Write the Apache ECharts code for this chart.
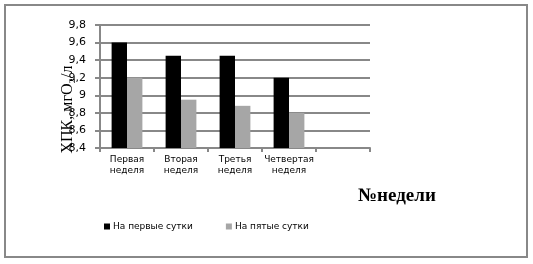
<!DOCTYPE html>
<html><head><meta charset="utf-8">
<script src="https://cdn.jsdelivr.net/npm/echarts@6/dist/echarts.min.js"></script>
<style>html,body{margin:0;padding:0;background:#fff}#c{width:533px;height:264px}</style>
</head><body><div id="c"></div>
<script>
const categories = ['Первая\nнеделя', 'Вторая\nнеделя', 'Третья\nнеделя', 'Четвертая\nнеделя', ''];
const seriesNames = ['На первые сутки', 'На пятые сутки'];
const firstDay = [9.6, 9.45, 9.45, 9.2, null];
const fifthDay = [9.2, 8.95, 8.88, 8.8, null];
const yMin = 8.4, yMax = 9.8, yStep = 0.2;
const yAxisTitle = 'ХПК, мгО₂/л';
const xAxisTitle = '№недели';

const chart = echarts.init(document.getElementById('c'), null, {renderer: 'canvas'});
chart.setOption({
  animation: false,
  backgroundColor: '#fff',
  grid: {left: 100, right: 163, top: 25, bottom: 116},
  legend: {
    left: 99, top: 217, itemWidth: 6, itemHeight: 6, itemGap: 33,
    icon: 'rect',
    textStyle: {fontFamily: 'DejaVu Sans', fontSize: 9, color: '#000', padding: [0,0,0,-2]},
    data: seriesNames
  },
  xAxis: {
    type: 'category', data: categories,
    axisLine: {lineStyle: {color: '#888', width: 2}},
    axisTick: {show: true, length: 4, lineStyle: {color: '#888', width: 2}},
    axisLabel: {fontFamily: 'DejaVu Sans', fontSize: 9, color: '#000', lineHeight: 11, margin: 6, interval: 0}
  },
  yAxis: {
    type: 'value', min: yMin, max: yMax, interval: yStep,
    name: yAxisTitle, nameLocation: 'middle', nameGap: 24, nameRotate: 90, nameMoveOverlap: false,
    nameTextStyle: {fontFamily: 'Liberation Serif', fontSize: 16, color: '#000', padding: [0, 46, 0, 0]},
    axisLine: {show: true, lineStyle: {color: '#888', width: 2}},
    axisTick: {show: true, length: 5, lineStyle: {color: '#888', width: 2}},
    splitLine: {lineStyle: {color: '#888', width: 2}},
    axisLabel: {fontFamily: 'DejaVu Sans', fontSize: 11, color: '#000', margin: 14,
      formatter: v => String(Math.round(v*10)/10).replace('.', ',')}
  },
  series: [
    {name: seriesNames[0], type: 'bar', data: firstDay, itemStyle: {color: '#000'}, barGap: '0%', barCategoryGap: '43%'},
    {name: seriesNames[1], type: 'bar', data: fifthDay, itemStyle: {color: '#a6a6a6'}}
  ],
  graphic: [
    {type: 'rect', shape: {x: 5, y: 5, width: 522, height: 252}, style: {fill: 'none', stroke: '#888', lineWidth: 2}, silent: true},
    {type: 'text', left: 358, top: 187, style: {text: xAxisTitle, fontFamily: 'Liberation Serif', fontWeight: 'bold', fontSize: 19, fill: '#000'}}
  ]
});
</script></body></html>
